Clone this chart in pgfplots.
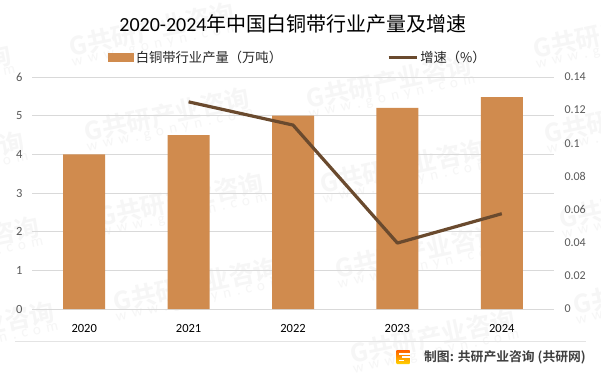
\documentclass[border=0pt]{standalone}
\usepackage{fontspec}
\usepackage{pgfplots}
\pgfplotsset{compat=1.18}
\setmainfont{Carlito}
\newfontfamily\cjk[BoldFont={Noto Sans CJK SC Bold}]{Noto Sans CJK SC}
\definecolor{barc}{HTML}{D08B4E}
\definecolor{linec}{HTML}{6A4A2E}
\definecolor{gridc}{HTML}{D9D9D9}
\definecolor{wm}{HTML}{F6F6F6}
\definecolor{tickc}{HTML}{595959}
\newcommand{\wsp}{\hspace{5.5pt}}
\newcommand{\wmark}[2]{%
 \node[rotate=12,anchor=center,text=wm,inner sep=0pt] at (#1pt,{373-#2}) 
 {\begin{tabular}{@{}c@{}}{\fontsize{25}{25}\selectfont\bfseries\cjk G共研产业咨询}\\[-2pt]
 {\fontsize{15}{15}\selectfont w\wsp w\wsp w\wsp .\wsp g\wsp o\wsp n\wsp y\wsp n\wsp .\wsp c\wsp o\wsp m}\end{tabular}};}
\begin{document}
\begin{tikzpicture}[x=1pt,y=1pt]
\path[use as bounding box] (0,0) rectangle (601,373);
\fill[white] (0,0) rectangle (601,373);
% watermarks (pixel coordinates measured from the top)
\begin{scope}
\clip (0,0) rectangle (601,373);
\wmark{-70}{77}\wmark{-57}{164}\wmark{-42}{249}\wmark{-27}{334}
\wmark{153}{35}\wmark{168}{120}\wmark{182}{205}\wmark{197}{290}
\wmark{390}{87}\wmark{404}{172}\wmark{419}{257}\wmark{434}{342}
\wmark{617}{37}\wmark{628}{122}\wmark{643}{207}\wmark{657}{293}
\end{scope}
% separator
\draw[color=gridc!70,line width=0.8pt] (15,32) -- (586,32);
\begin{axis}[
  at={(32pt,64pt)},anchor=south west,scale only axis,width=522pt,height=232pt,
  xmin=-0.5,xmax=4.5,ymin=0,ymax=6,
  axis y line=left,axis x line=bottom,
  axis line style={draw=gridc,-},y axis line style={draw=none},
  xtick={0,1,2,3,4},xticklabels={2020,2021,2022,2023,2024},
  ytick={0,1,2,3,4,5,6},
  major tick length=0pt,
  ymajorgrids,grid style={draw=gridc,line width=0.8pt},
  /pgf/number format/assume math mode=true,
  tick label style={font=\fontsize{12.5}{13}\selectfont},
  yticklabel style={text=tickc,xshift=-6pt},
  xticklabel style={text=black,yshift=-12pt},
]
\addplot[ybar,bar width=42pt,fill=barc,draw=none,bar shift=0pt] coordinates {(0,4)(1,4.5)(2,5)(3,5.2)(4,5.48)};
\end{axis}
\begin{axis}[
  at={(32pt,64pt)},anchor=south west,scale only axis,width=522pt,height=232pt,
  xmin=-0.5,xmax=4.5,ymin=0,ymax=0.14,
  axis y line=right,axis x line=none,
  y axis line style={draw=none},
  ytick={0,0.02,0.04,0.06,0.08,0.1,0.12,0.14},
  yticklabels={0,0.02,0.04,0.06,0.08,0.1,0.12,0.14},
  major tick length=0pt,
  tick label style={font=\fontsize{12}{13}\selectfont,text=tickc},
  yticklabel style={xshift=7pt},
  legend columns=2,
  legend style={draw=none,fill=none,at={(0.14,1.085)},anchor=west,
    font=\fontsize{13.3}{14}\selectfont\cjk,text=black!85,
    /tikz/every even column/.append style={column sep=103pt}},
]
\addlegendimage{legend image code/.code={\fill[barc] (-0.1pt,-4pt) rectangle (25pt,4pt);}}
\addlegendentry{白铜带行业产量（万吨）}
\addplot[color=linec,line width=3.2pt,line join=round,
  legend image code/.code={\draw[linec,line width=3.2pt] (-3pt,0)--(25pt,0);}]
  coordinates {(1,0.125)(2,0.111)(3,0.0398)(4,0.0575)};
\addlegendentry{增速（\%）}
\end{axis}
% title
\node[anchor=center] at (293,349) {\fontsize{20}{22}\selectfont 2020-2024{\cjk 年中国白铜带行业产量及增速}};
% footer logo
\shade[top color=orange!75!red,bottom color=yellow!65!orange,rounded corners=1pt] (396,9) rectangle (410,23);
\fill[white] (399,18.5) rectangle (410.2,20);
\fill[white] (402,15) rectangle (410.2,16.8);
\fill[white] (399,12) rectangle (404,13.5);
\node[anchor=east,inner sep=0pt,text=black!75] at (586,16) {\fontsize{12.8}{14}\selectfont\bfseries\cjk 制图:\hspace{4pt}共研产业咨询\hspace{3pt}(共研网)};
\end{tikzpicture}
\end{document}
